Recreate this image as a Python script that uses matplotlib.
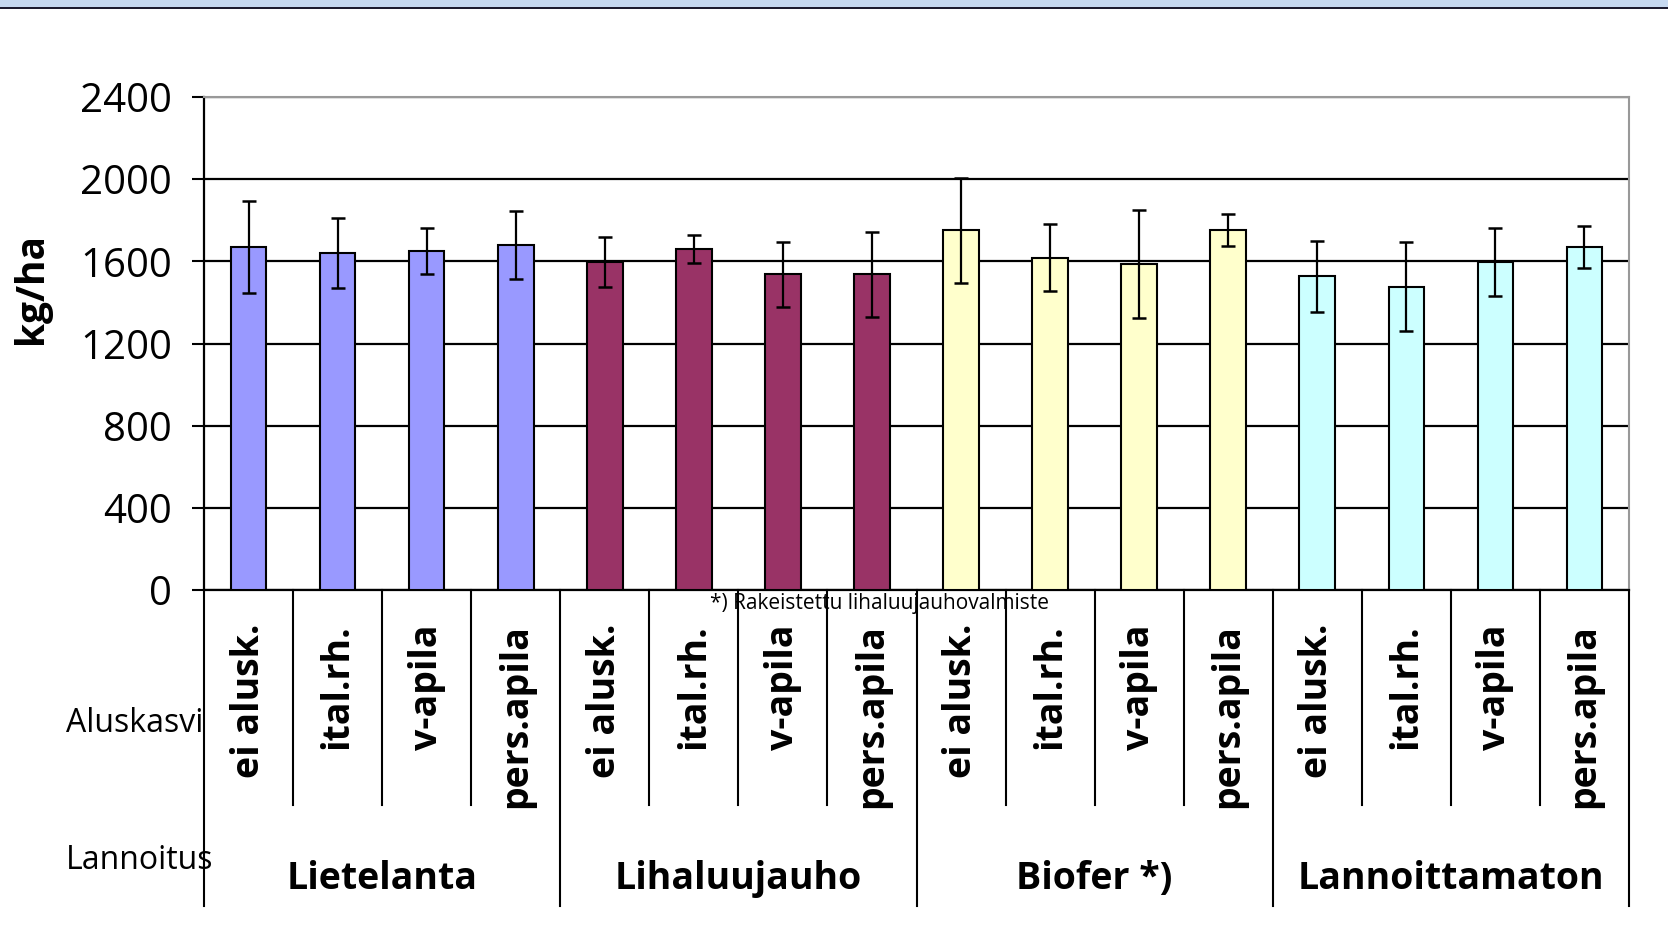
import matplotlib.pyplot as plt
import numpy as np
from matplotlib.patches import Rectangle

plt.rcParams['font.family'] = ['Open Sans', 'DejaVu Sans']

# data
aluskasvi = ['ei alusk.', 'ital.rh.', 'v-apila', 'pers.apila'] * 4
lannoitus = ['Lietelanta', 'Lihaluujauho', 'Biofer *)', 'Lannoittamaton']
group_colors = ['#9999FF', '#993366', '#FFFFCC', '#CCFFFF']
yields = [1670, 1639, 1650, 1679,
          1598, 1660, 1537, 1537,
          1751, 1618, 1587, 1751,
          1527, 1477, 1598, 1670]
errors = [222, 171, 110, 166,
          122, 70, 157, 208,
          256, 162, 263, 77,
          173, 218, 166, 101]

fig = plt.figure(figsize=(16.68, 9.38), dpi=100)

# header band at the top
fig.add_artist(Rectangle((0, 1 - 7 / 938), 1, 7 / 938, transform=fig.transFigure,
                         facecolor='#C6D9F1', edgecolor='none'))
fig.add_artist(Rectangle((0, 1 - 9.5 / 938), 1, 2.5 / 938, transform=fig.transFigure,
                         facecolor='#1c1c30', edgecolor='none'))

ax = fig.add_axes([204 / 1668, 1 - 590 / 938, (1629 - 204) / 1668, (590 - 97) / 938])

x = np.arange(len(yields))
colors = [group_colors[i // 4] for i in range(len(yields))]
ax.bar(x, yields, width=0.4, color=colors, edgecolor='black', linewidth=1.5, zorder=3)
ax.errorbar(x, yields, yerr=errors, fmt='none', ecolor='black', elinewidth=1.6,
            capsize=5, capthick=1.8, zorder=4)

ax.set_xlim(-0.5, len(yields) - 0.5)
ax.set_ylim(0, 2400)
ax.set_yticks(np.arange(0, 2401, 400))
ax.tick_params(axis='y', labelsize=29, length=9, width=1.5, direction='out', pad=14)
ax.tick_params(axis='x', bottom=False, labelbottom=False)
ax.yaxis.grid(True, color='black', linewidth=1.6, zorder=0)
ax.set_axisbelow(True)

ax.spines['left'].set_linewidth(1.6)
ax.spines['bottom'].set_linewidth(1.6)
ax.spines['top'].set_color('#999999')
ax.spines['right'].set_color('#999999')
ax.spines['top'].set_linewidth(1.5)
ax.spines['right'].set_linewidth(1.5)

fig.text(32 / 1668, 1 - 289 / 938, 'kg/ha', rotation=90, ha='center', va='center',
         fontsize=28, fontweight='bold')

trans = ax.get_xaxis_transform()
ax_h = 590 - 97
short_end = -(805 - 590) / ax_h
long_end = -(906 - 590) / ax_h

# category separators below the axis
for i in range(len(yields) + 1):
    b = i - 0.5
    yend = long_end if i % 4 == 0 else short_end
    ax.plot([b, b], [0, yend], transform=trans, color='black', linewidth=1.5,
            clip_on=False)

for i, lab in enumerate(aluskasvi):
    ax.text(i, -(624 - 590) / ax_h, lab, transform=trans, rotation=90,
            ha='center', va='top', fontsize=27, fontweight='bold')

for g, lab in enumerate(lannoitus):
    ax.text(g * 4 + 1.5, -(879 - 590) / ax_h, lab, transform=trans,
            ha='center', va='center', fontsize=27, fontweight='bold')

ax.text(7.08, -(604 - 590) / ax_h, '*) Rakeistettu lihaluujauhovalmiste', transform=trans,
        ha='center', va='center', fontsize=15)

fig.text(66 / 1668, 1 - 723 / 938, 'Aluskasvi', ha='left', va='center', fontsize=23)
fig.text(66 / 1668, 1 - 860 / 938, 'Lannoitus', ha='left', va='center', fontsize=23)

fig.savefig('out.png', dpi=100)
